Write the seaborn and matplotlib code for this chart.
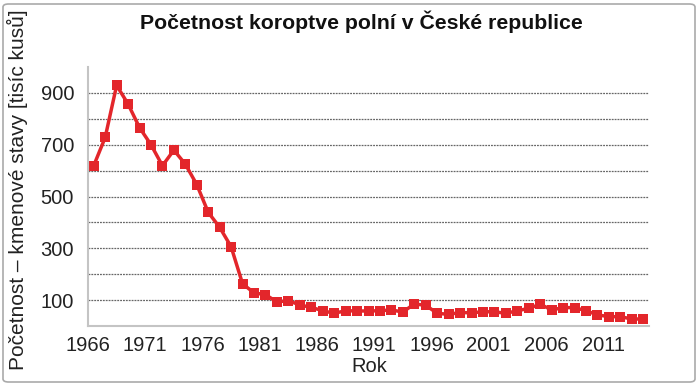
import matplotlib
matplotlib.use("Agg")
import matplotlib.pyplot as plt
from matplotlib.patches import FancyBboxPatch
import numpy as np
import pandas as pd
import seaborn as sns

sns.set_style("white")
plt.rcParams['font.family'] = ['Liberation Sans', 'DejaVu Sans']

# odhad z grafu (tisíce kusů)
years = list(range(1966, 2015))
counts = [619, 728, 929, 857, 766, 700, 619, 679, 625, 546,
          439, 381, 306, 163, 128, 121, 93, 98, 81, 72,
          59, 49, 59, 58, 58, 59, 62, 54, 85, 80,
          49, 45, 52, 51, 55, 55, 49, 59, 68, 84,
          62, 71, 71, 59, 43, 36, 36, 27, 27]
tick_years = list(range(1966, 2015, 5))
ytick_vals = [100, 300, 500, 700, 900]

df = pd.DataFrame({"Rok": years, "Pocet": counts})

fig = plt.figure(figsize=(7, 3.88), dpi=100)
ax = fig.add_axes([88 / 700, 1 - 326 / 388, 561 / 700, 259 / 388])

red = "#e3262b"
sns.lineplot(data=df, x="Rok", y="Pocet", ax=ax, color=red, linewidth=2.5,
             marker="s", markersize=6.5, markeredgewidth=0, markerfacecolor=red)

ax.set_xlim(1965.5, 2014.5)
ax.set_ylim(0, 1000)

# popisky os jsou na hranicích kategorií (styl Excelu)
ax.set_xticks([y - 0.5 for y in tick_years])
ax.set_xticklabels([str(y) for y in tick_years])
ax.set_yticks(ytick_vals)
ax.set_yticks(range(100, 1000, 100), minor=True)
ax.tick_params(axis="both", labelsize=14.5, colors="#222222")
ax.tick_params(axis="x", direction="out", length=3, width=1, color="#bbbbbb", pad=4)
ax.tick_params(axis="y", which="both", direction="out", length=5, width=1, color="#bbbbbb", pad=5)

ax.grid(False)
for v in range(100, 1000, 100):
    ax.axhline(v, color="#666666", linewidth=0.9, linestyle=(0, (1.5, 0.8)), zorder=0)

for s in ["top", "right"]:
    ax.spines[s].set_visible(False)
for s in ["left", "bottom"]:
    ax.spines[s].set_color("#c4c4c4")
    ax.spines[s].set_linewidth(1.5)

ax.set_xlabel("")
ax.set_ylabel("")
fig.text(369 / 700, 1 - 367 / 388, "Rok", ha="center", va="center", fontsize=14.5, color="#222222")
fig.text(17 / 700, 1 - 190 / 388, "Početnost – kmenové stavy [tisíc kusů]", rotation=90,
         ha="center", va="center", fontsize=15, color="#222222")
fig.text(361 / 700, 1 - 22 / 388, "Početnost koroptve polní v České republice",
         ha="center", va="center", fontsize=15.3, fontweight="bold", color="#111111")

border = FancyBboxPatch((3 / 700, 6 / 388), 692 / 700, 378 / 388,
                        boxstyle="round,pad=0,rounding_size=0.008",
                        transform=fig.transFigure, fill=False,
                        edgecolor="#aaaaaa", linewidth=1.2)
fig.patches.append(border)

fig.savefig("out.png", dpi=100)
